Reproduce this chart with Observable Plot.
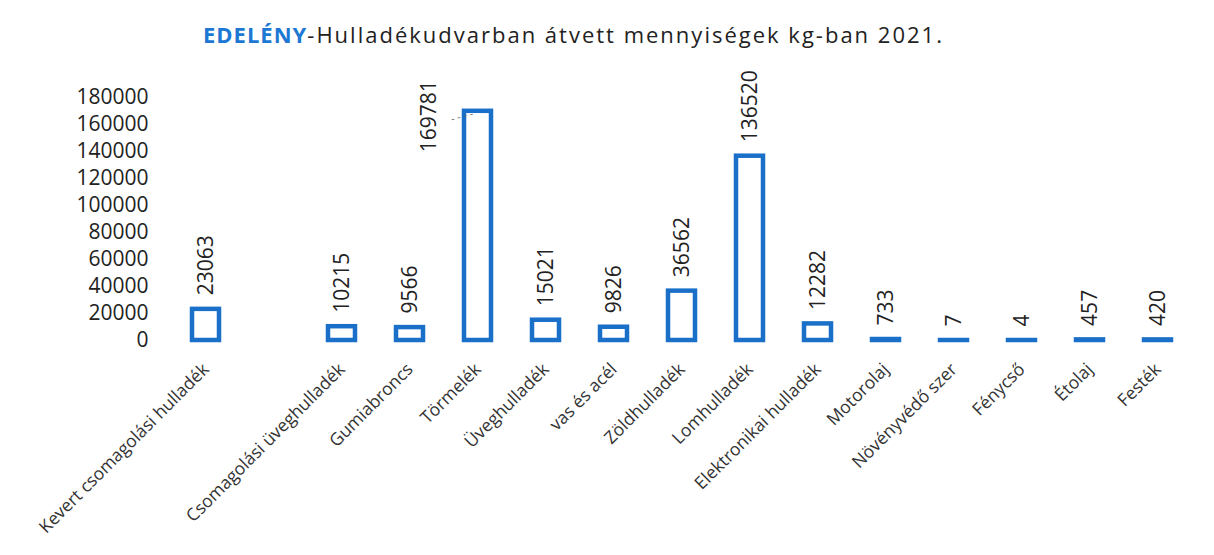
<!DOCTYPE html>
<html>
<head>
<meta charset="utf-8">
<script src="https://cdn.jsdelivr.net/npm/d3@7"></script>
<script src="https://cdn.jsdelivr.net/npm/@observablehq/plot@0.6"></script>
<style>
  html, body { margin: 0; padding: 0; background: #fff; }
  body { width: 1214px; height: 555px; overflow: hidden; font-family: "Open Sans", sans-serif; }
  #title { height: 70px; line-height: 68px; padding-left: 203px; font-size: 22px; letter-spacing: 2px; color: #222; white-space: nowrap; box-sizing: border-box; }
  #title b { color: #1d78d4; font-weight: 700; letter-spacing: 1px; }
</style>
</head>
<body>
<div id="title"><b>EDELÉNY</b>-Hulladékudvarban átvett mennyiségek kg-ban 2021.</div>
<div id="chart"></div>
<script>
const categories = [
  "Kevert csomagolási hulladék", "", "Csomagolási üveghulladék", "Gumiabroncs",
  "Törmelék", "Üveghulladék", "vas és acél", "Zöldhulladék", "Lomhulladék",
  "Elektronikai hulladék", "Motorolaj", "Növényvédő szer", "Fénycső", "Étolaj", "Festék"
];
const values = [23063, null, 10215, 9566, 169781, 15021, 9826, 36562, 136520, 12282, 733, 7, 4, 457, 420];
const yTicks = [0, 20000, 40000, 60000, 80000, 100000, 120000, 140000, 160000, 180000];

const data = categories.map((c, i) => ({category: c, value: values[i]})).filter(d => d.value != null);
const moved = "Törmelék";
const blue = "#1a6fc8";

const chart = Plot.plot({
  width: 1214,
  height: 485,
  marginLeft: 169,
  marginRight: 20,
  marginTop: 27,
  marginBottom: 215,
  style: {fontFamily: "Open Sans, sans-serif", color: "#222", background: "#fff"},
  x: {domain: categories, paddingInner: 0.6, paddingOuter: 0.3, label: null},
  y: {domain: [0, 180000], label: null},
  marks: [
    Plot.axisY({ticks: yTicks, tickSize: 0, tickPadding: 21, fontSize: 21, tickFormat: d => String(d), label: null}),
    Plot.axisX({tickSize: 0, tickPadding: 26, tickRotate: -45, fontSize: 17.5, textAnchor: "end", dx: 0, fill: "#333", label: null}),
    Plot.barY(data, {x: "category", y: "value", fill: "white", stroke: blue, strokeWidth: 4.5}),
    Plot.text(data.filter(d => d.category !== moved), {
      x: "category", y: "value", text: d => String(d.value),
      rotate: -90, textAnchor: "start", lineAnchor: "middle", dy: -14, fontSize: 21, fill: "#222"
    }),
    Plot.text(data.filter(d => d.category === moved), {
      x: "category", y: "value", text: d => String(d.value),
      rotate: -90, textAnchor: "start", lineAnchor: "middle", dx: -49, dy: 41, fontSize: 21, fill: "#222"
    }),
    Plot.text(data.filter(d => d.category === moved), {
      x: "category", y: "value", text: () => "- - - -",
      rotate: -15, dx: -16, dy: 5, fontSize: 11, fill: "#666"
    })
  ]
});
document.getElementById("chart").appendChild(chart);
</script>
</body>
</html>
